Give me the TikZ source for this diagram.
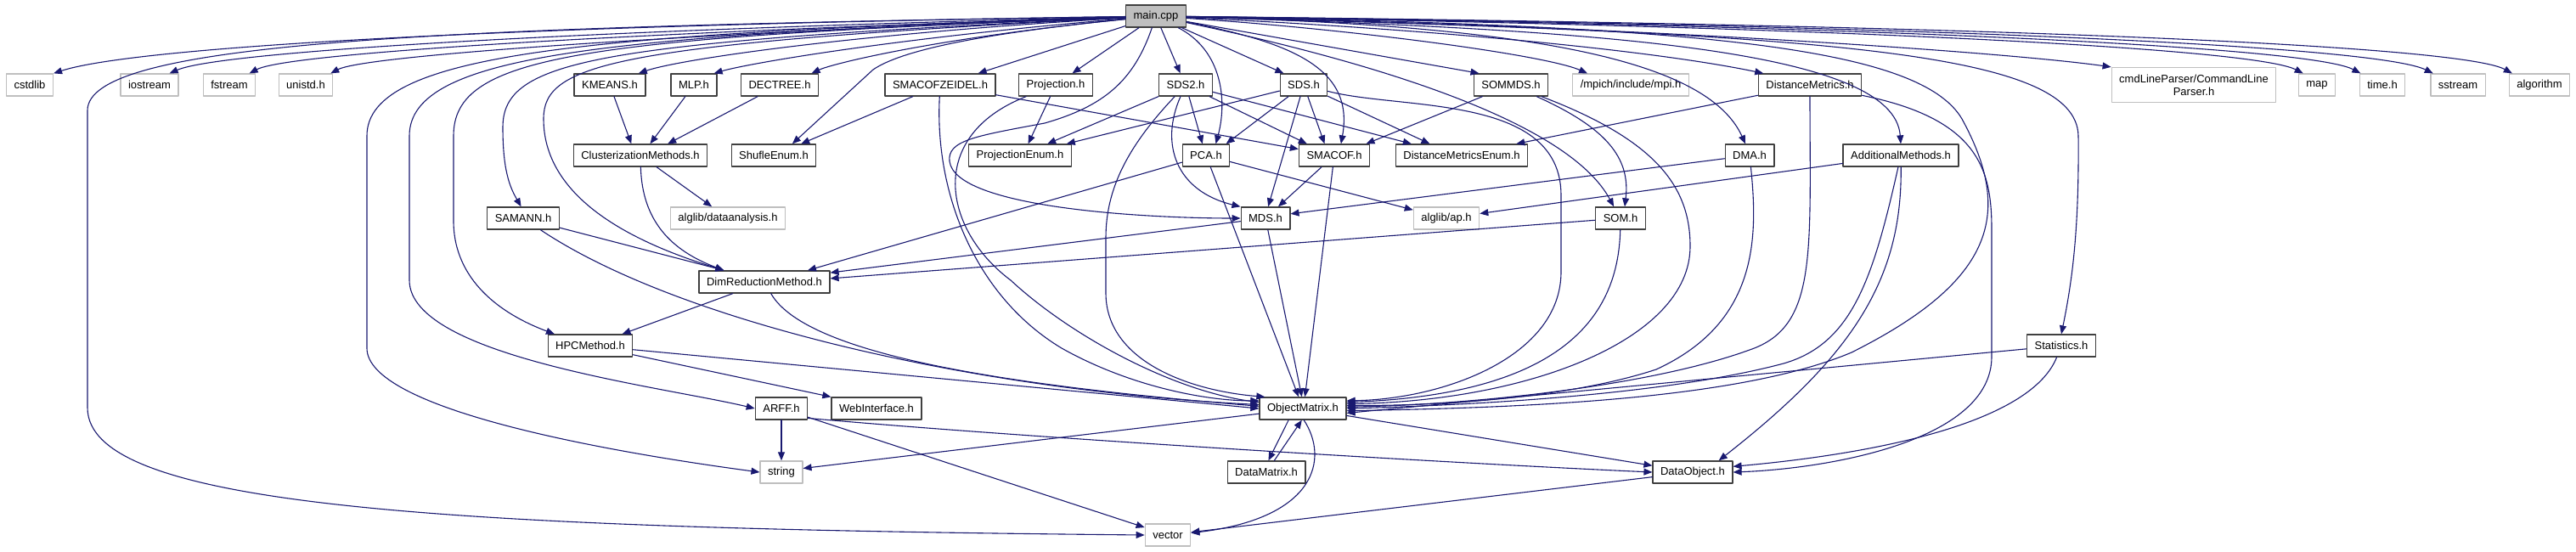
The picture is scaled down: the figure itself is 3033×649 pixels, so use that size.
\documentclass[tikz,border=0pt]{standalone}
\usepackage{fontspec}
\setmainfont{Liberation Sans}
\usetikzlibrary{arrows.meta}
\definecolor{edgeblue}{HTML}{191970}
\definecolor{sysgray}{HTML}{BFBFBF}
\definecolor{boxline}{HTML}{404040}

\begin{document}
\begin{tikzpicture}[x=1pt,y=-1pt,line cap=round,line join=round,
  hfile/.style={draw=boxline,line width=1.3pt,fill=white,minimum height=26pt,
    inner xsep=9pt,inner ysep=0pt,font=\fontsize{13}{15}\selectfont},
  sysfile/.style={hfile,draw=sysgray},
  rootfile/.style={hfile,fill=sysgray},
  dep/.style={draw=edgeblue,line width=1.1pt,-{Triangle[length=10pt,width=8pt]}}]
\useasboundingbox (0,0) rectangle (3033,649);

\node[rootfile] (main) at (1361,19) {main.cpp};

% first row of includes
\node[sysfile] (cstdlib) at (35,100) {cstdlib};
\node[sysfile] (iostream) at (176,100) {iostream};
\node[sysfile] (fstream) at (270,100) {fstream};
\node[sysfile] (unistd) at (360,100) {unistd.h};
\node[hfile] (kmeans) at (718,100) {KMEANS.h};
\node[hfile] (mlp) at (817,100) {MLP.h};
\node[hfile] (dectree) at (918,100) {DECTREE.h};
\node[hfile] (smacofz) at (1107,100) {SMACOFZEIDEL.h};
\node[hfile] (proj) at (1243,100) {Projection.h};
\node[hfile] (sdstwo) at (1396,100) {SDS2.h};
\node[hfile] (sds) at (1535,100) {SDS.h};
\node[hfile] (sommds) at (1779,100) {SOMMDS.h};
\node[sysfile] (mpi) at (1920,100) {/mpich/include/mpi.h};
\node[hfile] (distm) at (2131,100) {DistanceMetrics.h};
\node[sysfile,align=center,minimum height=41pt] (cmdline) at (2583,100) {cmdLineParser/CommandLine\\Parser.h};
\node[sysfile] (maph) at (2728,100) {map};
\node[sysfile] (timeh) at (2805,100) {time.h};
\node[sysfile] (sstream) at (2894,100) {sstream};
\node[sysfile] (algo) at (2990,100) {algorithm};

\node[hfile] (clust) at (754,183) {ClusterizationMethods.h};
\node[hfile] (shufle) at (911,183) {ShufleEnum.h};
\node[hfile] (projenum) at (1201,183) {ProjectionEnum.h};
\node[hfile] (pca) at (1420,183) {PCA.h};
\node[hfile] (smacof) at (1571,183) {SMACOF.h};
\node[hfile] (distenum) at (1721,183) {DistanceMetricsEnum.h};
\node[hfile] (dma) at (2060,183) {DMA.h};
\node[hfile] (addm) at (2238,183) {AdditionalMethods.h};

\node[hfile] (samann) at (616,257) {SAMANN.h};
\node[sysfile] (dataan) at (857,257) {alglib/dataanalysis.h};
\node[hfile] (mds) at (1490,257) {MDS.h};
\node[sysfile] (ap) at (1703,257) {alglib/ap.h};
\node[hfile] (som) at (1908,257) {SOM.h};

\node[hfile] (dimred) at (900,332) {DimReductionMethod.h};
\node[hfile] (hpc) at (695,407) {HPCMethod.h};
\node[hfile] (stats) at (2427,407) {Statistics.h};

\node[hfile] (arff) at (920,481) {ARFF.h};
\node[hfile] (web) at (1032,481) {WebInterface.h};
\node[hfile] (objm) at (1534,481) {ObjectMatrix.h};

\node[sysfile] (str) at (920,556) {string};
\node[hfile] (datam) at (1491,556) {DataMatrix.h};
\node[hfile] (datao) at (1993,556) {DataObject.h};
\node[sysfile] (vec) at (1375,630) {vector};

% main.cpp, left half
\draw[dep] (main) .. controls (600,30) and (160,55) .. (cstdlib.north east);
\draw[dep] (main) .. controls (500,32) and (103,50) .. (103,130) -- (103,480) .. controls (103,595) and (500,622) .. (vec.west);
\draw[dep] (main) .. controls (700,35) and (260,60) .. (iostream.30);
\draw[dep] (main) .. controls (750,38) and (340,62) .. (fstream.30);
\draw[dep] (main) .. controls (800,40) and (430,65) .. (unistd.25);
\draw[dep] (main) .. controls (700,40) and (432,60) .. (432,160) -- (432,410) .. controls (432,480) and (700,530) .. (str.west);
\draw[dep] (main) .. controls (720,42) and (482,62) .. (482,160) -- (482,330) .. controls (482,420) and (780,455) .. (arff.west);
\draw[dep] (main) .. controls (680,45) and (534,65) .. (534,160) -- (534,260) .. controls (534,330) and (590,370) .. (hpc.162);
\draw[dep] (main) .. controls (700,50) and (592,70) .. (592,150) .. controls (592,200) and (600,220) .. (samann.100);
\draw[dep] (main) .. controls (720,52) and (640,75) .. (640,140) .. controls (640,240) and (760,290) .. (dimred.164);
\draw[dep] (main) .. controls (1000,40) and (800,70) .. (kmeans.22);
\draw[dep] (main) .. controls (1050,45) and (880,75) .. (mlp.30);
\draw[dep] (main) .. controls (1100,45) and (980,75) .. (dectree.20);
\draw[dep] (main) .. controls (1150,40) and (1060,60) .. (1028,82) -- (shufle.32);
\draw[dep] (main) -- (smacofz.17);
\draw[dep] (main) -- (proj.35);
\draw[dep] (main) .. controls (1335,95) and (1300,125) .. (1230,145) .. controls (1150,160) and (1115,165) .. (1118,190) .. controls (1125,245) and (1350,257) .. (mds.west);
\draw[dep] (main) -- (sdstwo.115);
\draw[dep] (main) .. controls (1440,60) and (1445,120) .. (pca.50);
\draw[dep] (main) -- (sds.150);

% main.cpp, right half
\draw[dep] (main) .. controls (1520,50) and (1595,80) .. (smacof.60);
\draw[dep] (main) .. controls (1650,80) and (1850,150) .. (som.120);
\draw[dep] (main) -- (sommds.160);
\draw[dep] (main) .. controls (1600,35) and (1820,65) .. (mpi.165);
\draw[dep] (main) .. controls (1700,35) and (1950,60) .. (distm.166);
\draw[dep] (main) .. controls (1800,30) and (2010,70) .. (dma.110);
\draw[dep] (main) .. controls (1900,35) and (2230,60) .. (addm.north);
\draw[dep] (main) .. controls (2000,30) and (2260,55) .. (2310,140) .. controls (2370,250) and (2350,330) .. (2180,415) .. controls (2050,470) and (1800,480) .. (objm.-3);
\draw[dep] (main) .. controls (2150,40) and (2445,60) .. (2447,160) .. controls (2448,270) and (2440,330) .. (stats.north);
\draw[dep] (main) .. controls (1900,30) and (2350,60) .. (cmdline.north west);
\draw[dep] (main) .. controls (2100,30) and (2650,55) .. (maph.140);
\draw[dep] (main) .. controls (2200,30) and (2720,55) .. (timeh.152);
\draw[dep] (main) .. controls (2300,30) and (2800,55) .. (sstream.155);
\draw[dep] (main) .. controls (2400,30) and (2900,55) .. (algo.157);

\draw[dep] (kmeans) -- (clust.128);
\draw[dep] (mlp) -- (clust.50);
\draw[dep] (dectree) -- (clust.23);
\draw[dep] (clust) -- (dataan.144);
\draw[dep] (clust) .. controls (756,260) and (790,295) .. (dimred.164);
\draw[dep] (samann) -- (dimred.164);
\draw[dep] (samann) .. controls (800,380) and (1150,460) .. (objm.175);
\draw[dep] (dimred) -- (hpc.20);
\draw[dep] (dimred) .. controls (950,420) and (1200,455) .. (objm.177);
\draw[dep] (hpc) -- (objm.west);
\draw[dep] (hpc) -- (web.north west);

\draw[dep] (smacofz) -- (shufle.23);
\draw[dep] (smacofz) -- (smacof.170);
\draw[dep] (smacofz) .. controls (1100,230) and (1150,350) .. (1250,410) .. controls (1330,455) and (1420,472) .. (objm.170);
\draw[dep] (proj) -- (projenum.55);
\draw[dep] (proj) .. controls (1090,160) and (1110,270) .. (1190,330) .. controls (1260,395) and (1380,460) .. (objm.172);

\draw[dep] (sdstwo) -- (projenum.23);
\draw[dep] (sdstwo) -- (pca.107);
\draw[dep] (sdstwo) -- (smacof.157);
\draw[dep] (sdstwo) -- (distenum.167);
\draw[dep] (sdstwo) .. controls (1365,170) and (1385,225) .. (mds.north west);
\draw[dep] (sdstwo) .. controls (1330,170) and (1302,220) .. (1302,280) -- (1302,345) .. controls (1302,425) and (1400,460) .. (objm.163);

\draw[dep] (sds) -- (projenum.14);
\draw[dep] (sds) -- (pca.30);
\draw[dep] (sds) -- (mds.77);
\draw[dep] (sds) -- (smacof.130);
\draw[dep] (sds) -- (distenum.160);
\draw[dep] (sds) .. controls (1650,130) and (1838,110) .. (1838,230) -- (1838,320) .. controls (1838,420) and (1700,470) .. (objm.10);

\draw[dep] (pca) -- (dimred.15);
\draw[dep] (pca) -- (objm.110);
\draw[dep] (pca) -- (ap.166);
\draw[dep] (smacof) -- (mds);
\draw[dep] (smacof) -- (objm.80);
\draw[dep] (mds) -- (dimred.8);
\draw[dep] (mds) -- (objm.95);

\draw[dep] (sommds) -- (smacof.20);
\draw[dep] (sommds) .. controls (1890,150) and (1920,185) .. (som.70);
\draw[dep] (sommds) .. controls (1950,165) and (1990,220) .. (1990,290) .. controls (1990,400) and (1800,472) .. (objm.6);
\draw[dep] (som) -- (dimred.3);
\draw[dep] (som) .. controls (1905,400) and (1800,465) .. (objm.8);
\draw[dep] (dma) -- (mds.10);
\draw[dep] (dma) .. controls (2070,280) and (2070,380) .. (1950,435) .. controls (1850,468) and (1700,478) .. (objm.4);

\draw[dep] (distm) -- (distenum.12);
\draw[dep] (distm) .. controls (2131,300) and (2140,385) .. (2060,412) .. controls (1950,452) and (1750,476) .. (objm.2);
\draw[dep] (distm) .. controls (2330,140) and (2345,200) .. (2345,270) -- (2345,420) .. controls (2345,520) and (2150,552) .. (datao.east);
\draw[dep] (addm) -- (ap.8);
\draw[dep] (addm) .. controls (2205,330) and (2180,405) .. (2100,428) .. controls (1950,468) and (1700,478) .. (objm.east);
\draw[dep] (addm) .. controls (2240,330) and (2180,420) .. (datao.24);
\draw[dep] (stats) -- (objm.-6);
\draw[dep] (stats) .. controls (2390,500) and (2200,535) .. (datao.8);

% bottom rows
\draw[dep] (arff) -- (str);
\draw[dep] (arff) -- (vec);
\draw[dep] (arff.-20) .. controls (1200,515) and (1700,545) .. (datao.west);
\draw[dep] (objm) -- (str.10);
\draw[dep] (objm.-141) -- (datam.80);
\draw[dep] (datam) -- (objm.-95);
\draw[dep] (objm) -- (datao);
\draw[dep] (objm.-85) .. controls (1565,540) and (1550,610) .. (vec.5);
\draw[dep] (datao) -- (vec);
\end{tikzpicture}
\end{document}
